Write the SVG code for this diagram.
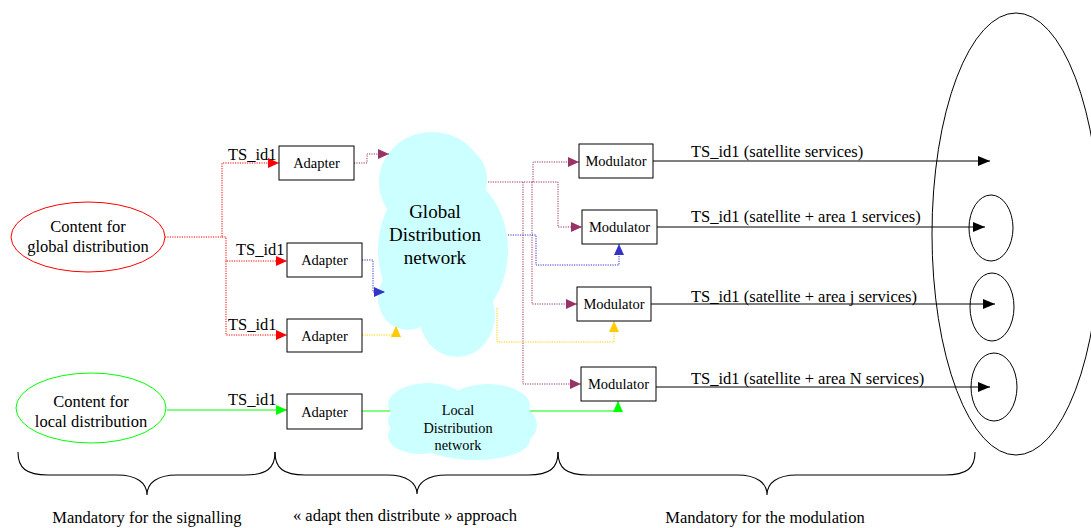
<svg xmlns="http://www.w3.org/2000/svg" width="1091" height="528" viewBox="0 0 1091 528" font-family="Times New Roman, Liberation Serif, Tinos, Noto Serif, DejaVu Serif, FreeSerif, serif">
<style>
text{font-family:"Times New Roman","Liberation Serif",Tinos,"Noto Serif","DejaVu Serif",FreeSerif,serif;fill:#000}
.box{fill:#fff;stroke:#000;stroke-width:1}
.cloud{fill:#ccffff;stroke:none}
.lbl{font-size:16.5px}
.bt{font-size:14.5px;text-anchor:middle}
.ct{font-size:16.5px;text-anchor:middle}
.dot{fill:none;stroke-width:1;stroke-dasharray:1.2 1.2}
.red{stroke:#ff0000}
.mag{stroke:#993366}
.blu{stroke:#3333cc}
.yel{stroke:#ffcc00}
.grn{fill:none;stroke:#00ff00;stroke-width:1}
.blk{fill:none;stroke:#000;stroke-width:1}
.brace{fill:none;stroke:#000;stroke-width:1.1}
</style>
<defs>
<marker id="mr" markerUnits="userSpaceOnUse" markerWidth="12" markerHeight="10" refX="11" refY="5" orient="auto"><path d="M0,0 L11,5 L0,10 Z" fill="#ff0000"/></marker>
<marker id="mm" markerUnits="userSpaceOnUse" markerWidth="12" markerHeight="10" refX="11" refY="5" orient="auto"><path d="M0,0 L11,5 L0,10 Z" fill="#993366"/></marker>
<marker id="mb" markerUnits="userSpaceOnUse" markerWidth="12" markerHeight="10" refX="11" refY="5" orient="auto"><path d="M0,0 L11,5 L0,10 Z" fill="#3333cc"/></marker>
<marker id="my" markerUnits="userSpaceOnUse" markerWidth="12" markerHeight="10" refX="11" refY="5" orient="auto"><path d="M0,0 L11,5 L0,10 Z" fill="#ffcc00"/></marker>
<marker id="mg" markerUnits="userSpaceOnUse" markerWidth="12" markerHeight="10" refX="11" refY="5" orient="auto"><path d="M0,0 L11,5 L0,10 Z" fill="#00ff00"/></marker>
<marker id="mk" markerUnits="userSpaceOnUse" markerWidth="13" markerHeight="10" refX="12" refY="5" orient="auto"><path d="M0,0 L12,5 L0,10 Z" fill="#000"/></marker>
</defs>
<rect width="1091" height="528" fill="#fff"/>

<g id="coverage-area">
<ellipse cx="1016" cy="234" rx="84" ry="221" fill="none" stroke="#000" stroke-width="1"/>
<ellipse cx="991" cy="228" rx="22" ry="33" fill="none" stroke="#000" stroke-width="1"/>
<ellipse cx="992" cy="307" rx="22" ry="34" fill="none" stroke="#000" stroke-width="1"/>
<ellipse cx="994" cy="387" rx="23" ry="34" fill="none" stroke="#000" stroke-width="1"/>
</g>

<g id="global-network">
<ellipse class="cloud" cx="432" cy="182" rx="53" ry="50"/>
<ellipse class="cloud" cx="443" cy="250" rx="65" ry="80"/>
<ellipse class="cloud" cx="457" cy="315" rx="38" ry="42"/>
<ellipse class="cloud" cx="408" cy="298" rx="30" ry="32"/>
<ellipse class="cloud" cx="465" cy="180" rx="22" ry="30"/>
<text x="435" y="218" font-size="19" text-anchor="middle">Global</text>
<text x="435" y="241" font-size="19" text-anchor="middle">Distribution</text>
<text x="435" y="264" font-size="19" text-anchor="middle">network</text>
</g>

<g id="local-network">
<ellipse class="cloud" cx="460" cy="421" rx="72" ry="28"/>
<ellipse class="cloud" cx="428" cy="405" rx="40" ry="22"/>
<ellipse class="cloud" cx="488" cy="406" rx="42" ry="22"/>
<ellipse class="cloud" cx="475" cy="440" rx="55" ry="20"/>
<ellipse class="cloud" cx="420" cy="436" rx="32" ry="18"/>
<ellipse class="cloud" cx="512" cy="425" rx="25" ry="20"/>
<text x="458" y="415" font-size="14.3" text-anchor="middle">Local</text>
<text x="458" y="433" font-size="14.3" text-anchor="middle">Distribution</text>
<text x="458" y="450" font-size="14.3" text-anchor="middle">network</text>
</g>

<g id="connectors">
<path class="dot red" d="M165,237 H222 V163 H279" marker-end="url(#mr)"/>
<path class="dot red" d="M222,237 H226 V261 H287" marker-end="url(#mr)"/>
<path class="dot red" d="M226,261 V335 H287" marker-end="url(#mr)"/>
<path class="dot mag" d="M354,163 H367 V154 H389" marker-end="url(#mm)"/>
<path class="dot blu" d="M362,260 H373 V292 H385" marker-end="url(#mb)"/>
<path class="dot yel" d="M362,335 H396 V326" marker-end="url(#my)"/>
<path class="dot mag" d="M488,182 H558 V227 H582" marker-end="url(#mm)"/>
<path class="dot mag" d="M533,182 V162 H579" marker-end="url(#mm)"/>
<path class="dot mag" d="M532,182 V304 H577" marker-end="url(#mm)"/>
<path class="dot mag" d="M523,182 V384 H581" marker-end="url(#mm)"/>
<path class="dot blu" d="M508,235 H536 V265 H619 V244" marker-end="url(#mb)"/>
<path class="dot yel" d="M497,308 V342 H614 V321" marker-end="url(#my)"/>
<path class="grn" d="M167,410 H287" marker-end="url(#mg)"/>
<path class="grn" d="M362,411 H390"/>
<path class="grn" d="M530,411 H618 V401" marker-end="url(#mg)"/>
<path class="blk" d="M653,161 H990" marker-end="url(#mk)"/>
<path class="blk" d="M657,227 H985" marker-end="url(#mk)"/>
<path class="blk" d="M651,304 H995" marker-end="url(#mk)"/>
<path class="blk" d="M656,387 H990" marker-end="url(#mk)"/>
<text class="lbl" x="228" y="160">TS_id1</text>
<text class="lbl" x="236" y="255">TS_id1</text>
<text class="lbl" x="228" y="330">TS_id1</text>
<text class="lbl" x="228" y="405">TS_id1</text>
<text class="lbl" x="691" y="157">TS_id1 (satellite services)</text>
<text class="lbl" x="691" y="222">TS_id1 (satellite + area 1 services)</text>
<text class="lbl" x="691" y="302">TS_id1 (satellite + area j services)</text>
<text class="lbl" x="691" y="384">TS_id1 (satellite + area N services)</text>
</g>

<g id="content-global">
<ellipse cx="88" cy="237" rx="77" ry="35" fill="#fff" stroke="#ff0000" stroke-width="1"/>
<text class="ct" x="88" y="232">Content for</text>
<text class="ct" x="88" y="252">global distribution</text>
</g>
<g id="content-local">
<ellipse cx="91" cy="408" rx="75" ry="35" fill="#fff" stroke="#00ff00" stroke-width="1"/>
<text class="ct" x="91" y="407">Content for</text>
<text class="ct" x="91" y="427">local distribution</text>
</g>

<g id="adapter1"><rect class="box" x="279" y="146" width="75" height="34"/><text class="bt" x="316.5" y="168">Adapter</text></g>
<g id="adapter2"><rect class="box" x="287" y="243" width="75" height="34"/><text class="bt" x="324.5" y="265">Adapter</text></g>
<g id="adapter3"><rect class="box" x="287" y="319" width="75" height="33"/><text class="bt" x="324.5" y="341">Adapter</text></g>
<g id="adapter4"><rect class="box" x="287" y="394" width="75" height="35"/><text class="bt" x="324.5" y="417">Adapter</text></g>

<g id="modulator1"><rect class="box" x="579" y="144" width="74" height="34"/><text class="bt" x="616" y="166">Modulator</text></g>
<g id="modulator2"><rect class="box" x="582" y="210" width="75" height="34"/><text class="bt" x="619.5" y="232">Modulator</text></g>
<g id="modulator3"><rect class="box" x="577" y="287" width="74" height="34"/><text class="bt" x="614" y="309">Modulator</text></g>
<g id="modulator4"><rect class="box" x="581" y="367" width="75" height="34"/><text class="bt" x="618.5" y="389">Modulator</text></g>

<g id="braces">
<path class="brace" d="M18,452 C18,468 26,475 48,475 L117,475 C137,475 147,483 147,495 C147,483 157,475 177,475 L245,475 C267,475 275,468 275,452"/>
<path class="brace" d="M275,452 C275,468 283,475 305,475 L387,475 C407,475 417,483 417,494 C417,483 427,475 447,475 L528,475 C550,475 558,468 558,452"/>
<path class="brace" d="M558,452 C558,468 566,475 588,475 L737,475 C757,475 767,483 767,495 C767,483 777,475 797,475 L945,475 C967,475 975,468 975,452"/>
<text x="147" y="523" font-size="16.5" text-anchor="middle">Mandatory for the signalling</text>
<text x="405" y="521" font-size="16.5" text-anchor="middle">« adapt then distribute » approach</text>
<text x="765" y="523" font-size="16.5" text-anchor="middle">Mandatory for the modulation</text>
</g>
</svg>
